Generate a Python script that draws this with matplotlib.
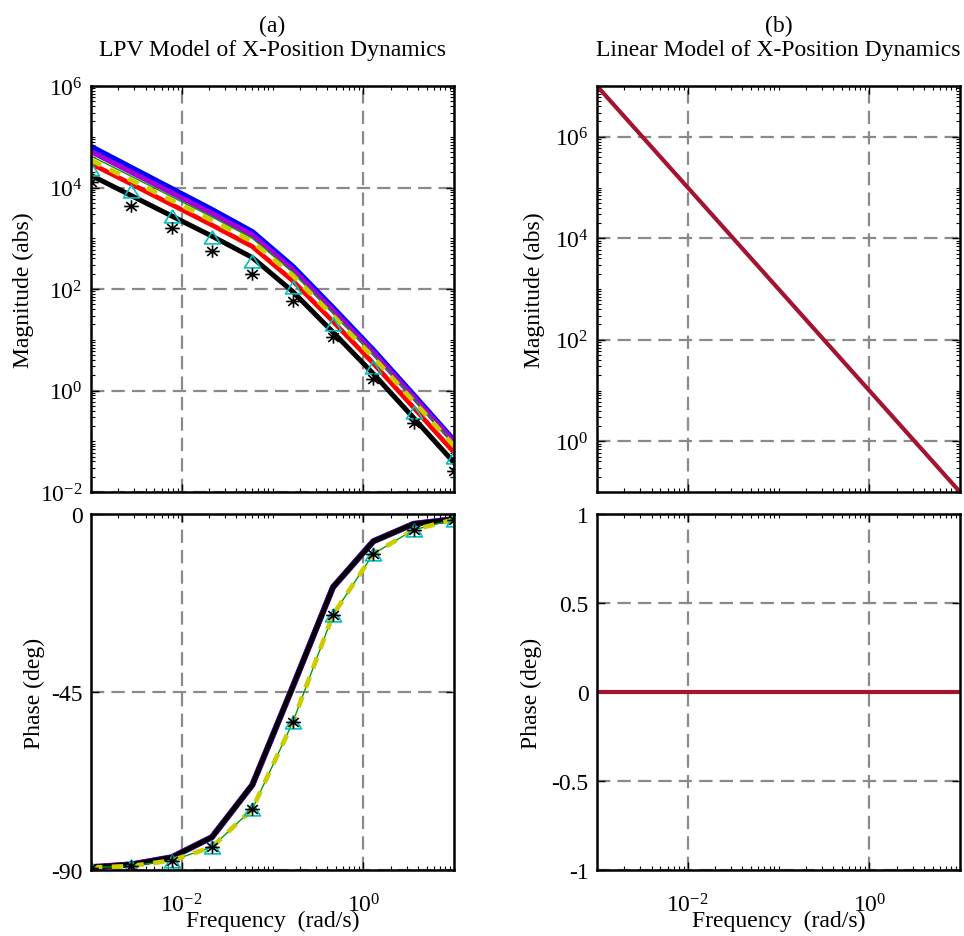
import matplotlib
matplotlib.use("Agg")
import matplotlib.pyplot as plt
from matplotlib.ticker import FuncFormatter, LogLocator, NullFormatter
from matplotlib.path import Path
import numpy as np

plt.rcParams['font.family'] = ['Liberation Serif', 'DejaVu Serif']
plt.rcParams['mathtext.fontset'] = 'custom'
plt.rcParams['mathtext.rm'] = 'Liberation Serif'
plt.rcParams['mathtext.default'] = 'rm'
plt.rcParams['axes.unicode_minus'] = False

# frequency grid (rad/s), 10 points per curve
freq = [0.001, 0.00278, 0.00774, 0.0215, 0.0599, 0.167, 0.464, 1.29, 3.59, 10.0]

# LPV magnitudes (abs), one list per frozen model
mag_blue = [6.31e4, 2.43e4, 9.35e3, 3.61e3, 1.32e3, 274, 42.0, 6.15, 0.802, 0.102]
mag_magenta = [5.13e4, 2.00e4, 7.83e3, 3.07e3, 1.15e3, 240, 37.4, 5.57, 0.738, 0.0955]
mag_green = [4.17e4, 1.66e4, 6.61e3, 2.63e3, 1000, 214, 33.9, 5.13, 0.692, 0.0891]
mag_yellow = [3.47e4, 1.39e4, 5.58e3, 2.24e3, 857, 185, 29.5, 4.50, 0.612, 0.0813]
mag_red = [2.95e4, 1.17e4, 4.60e3, 1.82e3, 687, 145, 22.9, 3.44, 0.460, 0.0603]
mag_tri = [2.32e4, 8.65e3, 2.78e3, 1.045e3, 361, 108, 20.4, 2.86, 0.372, 0.0483]
mag_black = [1.74e4, 6.92e3, 2.75e3, 1.10e3, 417, 89.1, 14.1, 2.14, 0.288, 0.038]
mag_star = [1.26e4, 4.27e3, 1.57e3, 553, 198, 58.7, 11.2, 1.69, 0.229, 0.0263]

# LPV phases (deg): two groups of curves
phase_solid = [-89.3, -88.6, -86.8, -81.7, -68.5, -43.7, -18.5, -6.9, -2.5, -1.3]
phase_dash = [-89.4, -89.0, -87.6, -84.2, -74.6, -52.7, -25.5, -10.1, -4.0, -1.4]

# linear model
lin_freq = [0.001, 10.0]
lin_mag = [1e7, 0.1]
lin_phase = [0, 0]

W, H = 964, 937
fig = plt.figure(figsize=(W / 100, H / 100), dpi=100)

def box(x0, y0, x1, y1):
    return [x0 / W, 1 - y1 / H, (x1 - x0) / W, (y1 - y0) / H]

ax1 = fig.add_axes(box(91, 87, 454, 493))
ax2 = fig.add_axes(box(91, 515, 454, 871))
ax3 = fig.add_axes(box(597, 87, 960, 493))
ax4 = fig.add_axes(box(597, 515, 960, 871))

# the source picture is a bit wider than tall, so markers are too
tri = Path([(-1, -0.8), (1, -0.8), (0, 0.8), (-1, -0.8)],
           [Path.MOVETO, Path.LINETO, Path.LINETO, Path.CLOSEPOLY])
star = Path([(-1, 0), (1, 0), (0, -0.85), (0, 0.85),
             (-0.72, -0.6), (0.72, 0.6), (-0.72, 0.6), (0.72, -0.6)],
            [Path.MOVETO, Path.LINETO] * 4)

pow10 = FuncFormatter(lambda v, p: r'$10^{%d}$' % int(round(np.log10(v))))
plain = FuncFormatter(lambda v, p: '%g' % v)
FS = 17

def style(ax):
    ax.set_xscale('log')
    ax.set_xlim(1e-3, 1e1)
    ax.set_xticks([1e-2, 1e0])
    ax.xaxis.set_minor_locator(LogLocator(base=10, subs=np.arange(1, 10), numticks=50))
    ax.xaxis.set_minor_formatter(NullFormatter())
    ax.xaxis.set_major_formatter(pow10)
    ax.tick_params(which='both', direction='in', top=True, right=True,
                   labelsize=FS, colors='black')
    ax.tick_params(which='major', length=6, width=1.0)
    ax.tick_params(which='minor', length=3, width=0.8)
    ax.tick_params(axis='x', pad=17)
    ax.tick_params(axis='y', pad=6)
    for s in ax.spines.values():
        s.set_linewidth(1.8)
    ax.grid(True, which='major', color='#8a8a8a', linestyle=(0, (6, 3.2)), linewidth=1.6)
    ax.set_axisbelow(True)

for ax in (ax1, ax2, ax3, ax4):
    style(ax)

def log_y(ax, lo, hi, ticks):
    ax.set_yscale('log')
    ax.set_ylim(lo, hi)
    ax.set_yticks(ticks)
    ax.yaxis.set_minor_locator(LogLocator(base=10, subs=np.arange(1, 10), numticks=50))
    ax.yaxis.set_minor_formatter(NullFormatter())
    ax.yaxis.set_major_formatter(pow10)

def markers(ax, y_tri, y_star):
    ax.plot(freq, y_tri, linestyle='none', marker=tri, ms=11.5, mfc='none',
            mec='#00bfbf', mew=1.2)
    ax.plot(freq, y_star, linestyle='none', marker=star, ms=10.5, mfc='none',
            mec='black', mew=1.2)

# (a) magnitude
ax1.plot(freq, mag_blue, color='#0000ff', lw=4.4)
ax1.plot(freq, mag_magenta, color='#a800d8', lw=3.8)
ax1.plot(freq, mag_red, color='#ff0000', lw=3.4)
ax1.plot(freq, mag_black, color='black', lw=3.6)
ax1.plot(freq, mag_green, color='#00a000', lw=1.0)
ax1.plot(freq, mag_yellow, color='#cccc00', lw=3.4, linestyle=(0, (2.4, 2.0)))
markers(ax1, mag_tri, mag_star)
log_y(ax1, 1e-2, 1e6, [1e-2, 1e0, 1e2, 1e4, 1e6])
ax1.tick_params(axis='x', labelbottom=False)
ax1.set_ylabel('Magnitude (abs)', fontsize=FS)
ax1.yaxis.set_label_coords(-0.158, 0.5)
ax1.set_title('(a)\nLPV Model of X-Position Dynamics', fontsize=FS, pad=22,
              linespacing=1.2)

# (a) phase
ax2.plot(freq, phase_solid, color='#0000ff', lw=4.4)
ax2.plot(freq, phase_solid, color='#ff0000', lw=3.4)
ax2.plot(freq, phase_solid, color='#a800d8', lw=4.0)
ax2.plot(freq, phase_solid, color='black', lw=3.6)
ax2.plot(freq, phase_dash, color='#00a000', lw=1.0)
ax2.plot(freq, phase_dash, color='#cccc00', lw=3.4, linestyle=(0, (2.4, 2.0)))
markers(ax2, phase_dash, phase_dash)
ax2.set_ylim(-90, 0)
ax2.set_yticks([-90, -45, 0])
ax2.yaxis.set_major_formatter(plain)
ax2.set_ylabel('Phase (deg)', fontsize=FS)
ax2.yaxis.set_label_coords(-0.128, 0.5)
ax2.set_xlabel('Frequency  (rad/s)', fontsize=FS, va='top')
ax2.xaxis.set_label_coords(0.5, -0.112)

# (b) magnitude
ax3.plot(lin_freq, lin_mag, color='#a2142f', lw=3.0)
log_y(ax3, 1e-1, 1e7, [1e0, 1e2, 1e4, 1e6])
ax3.tick_params(axis='x', labelbottom=False)
ax3.set_ylabel('Magnitude (abs)', fontsize=FS)
ax3.yaxis.set_label_coords(-0.143, 0.5)
ax3.set_title('(b)\nLinear Model of X-Position Dynamics', fontsize=FS, pad=22,
              linespacing=1.2)

# (b) phase
ax4.plot(lin_freq, lin_phase, color='#a2142f', lw=3.0)
ax4.set_ylim(-1, 1)
ax4.set_yticks([-1, -0.5, 0, 0.5, 1])
ax4.yaxis.set_major_formatter(plain)
ax4.set_ylabel('Phase (deg)', fontsize=FS)
ax4.yaxis.set_label_coords(-0.152, 0.5)
ax4.set_xlabel('Frequency  (rad/s)', fontsize=FS, va='top')
ax4.xaxis.set_label_coords(0.5, -0.112)

fig.savefig('out.png', dpi=100)
